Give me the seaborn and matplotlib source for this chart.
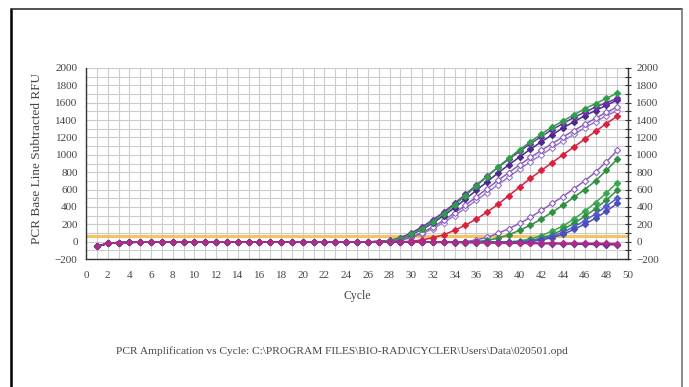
import matplotlib
matplotlib.use("Agg")
import matplotlib.pyplot as plt
from matplotlib.lines import Line2D
from matplotlib.ticker import MultipleLocator
import numpy as np
import pandas as pd
import seaborn as sns

# cycles 1..49, readings in RFU (base line subtracted)
cycles = list(range(1, 50))

# flat pre-amplification readings shared by every well (cycles 1..27)
base = [-55, -20, -10, -8, -6, -6, -5, -5, -5, -4, -4, -4, -4, -4, -4,
        -4, -4, -4, -4, -3, -3, -3, -3, -2, -2, -2, 0]

# early wells (rise from cycle 28)
green_a = base + [10, 35, 85, 150, 230, 320, 420, 530, 640, 750, 860, 960,
                  1060, 1150, 1240, 1320, 1390, 1460, 1530, 1590, 1650, 1710]
purple_a = base + [15, 45, 100, 170, 250, 340, 440, 545, 650, 755, 855, 950,
                   1040, 1130, 1210, 1290, 1360, 1430, 1490, 1550, 1600, 1650]
violet_a = base + [10, 35, 80, 140, 215, 300, 390, 490, 590, 690, 790, 885,
                   975, 1065, 1150, 1230, 1310, 1380, 1450, 1510, 1570, 1630]
lilac_a = base + [0, 20, 55, 105, 170, 245, 330, 420, 515, 610, 705, 795,
                  885, 970, 1050, 1130, 1205, 1280, 1350, 1420, 1490, 1550]
lav_a = base + [0, 15, 45, 90, 150, 220, 300, 385, 475, 565, 655, 745,
                835, 920, 1000, 1080, 1160, 1235, 1310, 1380, 1450, 1510]
red = base + [-2, -2, 5, 20, 45, 80, 130, 190, 260, 340, 430, 530, 630,
              730, 820, 910, 1000, 1090, 1180, 1270, 1360, 1445]

# middle wells (cycles 28..49)
lilac_b = base + [-2, -2, -2, -2, -2, -2, -2, 0, 20, 50, 95, 150, 210,
                  280, 360, 440, 520, 610, 700, 800, 920, 1050]
green_b = base + [-2, -2, -2, -2, -2, -2, -2, -2, 0, 15, 40, 80, 130,
                  190, 260, 340, 420, 510, 600, 700, 820, 950]

# late wells
green_c = base + [-2] * 12 + [10, 30, 70, 120, 180, 260, 350, 450, 560, 680]
green_d = base + [-2] * 13 + [15, 40, 80, 140, 210, 290, 380, 480, 590]
blue_c = base + [-2] * 13 + [10, 30, 60, 110, 170, 240, 320, 410, 500]
blue_d = base + [-2] * 14 + [20, 45, 85, 140, 200, 270, 350, 440]

# negative controls
neg_a = base + [-3, -4, -5, -6, -8, -9, -10, -12, -13, -15, -16, -18, -20,
                -21, -23, -25, -26, -28, -30, -32, -34, -36]
neg_b = base + [-2, -3, -3, -4, -5, -6, -7, -8, -9, -10, -11, -12, -13,
                -14, -15, -16, -17, -18, -19, -20, -21, -22]

threshold = 60

wells = {
    "lav_a": (lav_a, "#9a7cc8", "white"),
    "lilac_a": (lilac_a, "#8a5fc0", "white"),
    "violet_a": (violet_a, "#4b2a8c", None),
    "purple_a": (purple_a, "#6a30a8", None),
    "green_a": (green_a, "#2f9e48", None),
    "red": (red, "#d8223f", None),
    "lilac_b": (lilac_b, "#8a5fc0", "white"),
    "green_b": (green_b, "#2f9040", None),
    "green_c": (green_c, "#38a850", None),
    "green_d": (green_d, "#2f9040", None),
    "blue_c": (blue_c, "#5a5ad0", None),
    "blue_d": (blue_d, "#4850b8", None),
    "neg_a": (neg_a, "#5a2d91", None),
    "neg_b": (neg_b, "#b02a8a", None),
}

rows = []
for name, (vals, col, face) in wells.items():
    for c, v in zip(cycles, vals):
        rows.append({"well": name, "cycle": c, "rfu": v})
df = pd.DataFrame(rows)

sns.set_style("white")
plt.rcParams["font.family"] = ["Liberation Serif", "DejaVu Serif"]

fig = plt.figure(figsize=(6.89, 3.87), dpi=100)
ax = fig.add_axes([0.1248, 0.3307, 0.7867, 0.4936])

ax.axhline(threshold, color="#f4c463", lw=2.2, zorder=2)

for name, (vals, col, face) in wells.items():
    sub = df[df["well"] == name]
    sns.lineplot(data=sub, x="cycle", y="rfu", ax=ax, color=col, lw=1.1,
                 marker="D", markersize=3.2,
                 markerfacecolor=face if face else col,
                 markeredgecolor=col, markeredgewidth=0.8, zorder=3)

ax.set_xlim(0, 50)
ax.set_ylim(-200, 2000)
ax.xaxis.set_major_locator(MultipleLocator(2))
ax.xaxis.set_minor_locator(MultipleLocator(1))
ax.yaxis.set_major_locator(MultipleLocator(200))
ax.yaxis.set_minor_locator(MultipleLocator(100))
ax.grid(True, which="both", color="#cccccc", lw=0.8)
ax.set_axisbelow(True)

ax.spines["top"].set_visible(False)
for side in ["left", "right", "bottom"]:
    ax.spines[side].set_color("#333333")
    ax.spines[side].set_linewidth(1.0)

ax.tick_params(axis="both", which="both", direction="inout", colors="#333333",
               labelsize=8, length=5, width=0.8)
ax.tick_params(axis="y", which="both", right=True, labelright=True)
ax.tick_params(axis="x", which="major", pad=6)
for lab in ax.get_xticklabels() + ax.get_yticklabels():
    lab.set_color("#444444")

ax.set_xlabel("Cycle", fontsize=8.5, color="#444444", labelpad=7)
ax.set_ylabel("")
fig.text(0.054, 0.59, "PCR Base Line Subtracted RFU", rotation=90,
         ha="center", va="center", fontsize=9.5, color="#444444")

fig.text(0.496, 0.093,
         "PCR Amplification vs Cycle: C:\\PROGRAM FILES\\BIO-RAD\\ICYCLER\\Users\\Data\\020501.opd",
         ha="center", va="center", fontsize=8.2, color="#444444")

# page frame
fig.add_artist(Line2D([0.016, 0.016], [0.0, 0.977], color="black", lw=1.8))
fig.add_artist(Line2D([0.016, 0.99], [0.977, 0.977], color="#333333", lw=1.2))
fig.add_artist(Line2D([0.99, 0.99], [0.0, 0.977], color="#777777", lw=1.2))

fig.savefig("out.png", dpi=100)
